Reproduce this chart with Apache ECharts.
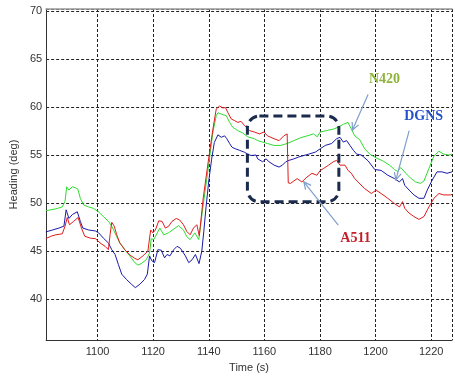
<!DOCTYPE html>
<html><head><meta charset="utf-8">
<script src="https://cdn.jsdelivr.net/npm/echarts@6/dist/echarts.min.js"></script>
<style>html,body{margin:0;padding:0;background:#fff}#c{width:455px;height:378px}</style>
</head><body><div id="c"></div>
<script>
// Tick labels
const xTicks = [1100, 1120, 1140, 1160, 1180, 1200, 1220];
const yTicks = [40, 45, 50, 55, 60, 65, 70];
const seriesNames = ['N420', 'DGNS', 'A511'];

// N420 (green): [time s, heading deg]
const n420 = [
 [1081.4,49.2],[1085.0,49.4],[1087.3,49.6],[1088.3,50.2],[1088.9,51.7],[1089.7,51.35],[1090.9,51.7],[1092.0,51.6],[1092.9,51.45],
 [1093.8,50.5],[1095.0,49.8],[1096.8,49.6],[1098.5,49.45],[1100.3,49.1],[1102.1,48.6],[1103.9,48.1],[1105.1,47.6],[1106.9,46.5],
 [1108.0,45.85],[1109.8,45.15],[1111.6,44.5],[1113.4,43.8],[1114.5,43.55],[1115.7,43.7],[1117.5,44.1],[1118.7,44.8],[1119.3,46.3],
 [1120.2,46.2],[1122.4,47.4],[1123.8,46.7],[1125.5,46.9],[1127.9,47.4],[1129.1,47.65],[1130.9,47.2],[1132.1,46.5],[1133.3,46.2],
 [1135.0,46.9],[1136.4,46.2],[1138.0,49.8],[1139.8,53.6],[1141.5,57.4],[1142.7,59.1],[1143.3,59.4],[1145.1,59.2],[1146.3,59.1],
 [1147.5,58.4],[1148.6,57.9],[1150.4,57.55],[1152.2,57.3],[1154.0,56.9],[1156.4,56.7],[1157.6,56.5],[1159.3,56.35],[1161.1,56.2],
 [1163.5,56.0],[1165.9,56.0],[1168.2,56.2],[1170.6,56.5],[1173.0,56.8],[1175.4,57.0],[1177.7,57.2],[1179.0,56.9],[1180.1,57.4],
 [1182.5,57.55],[1184.8,57.7],[1186.6,57.9],[1188.4,58.2],[1190.1,58.4],[1191.3,57.7],[1192.5,57.0],[1194.3,56.6],[1196.1,55.65],
 [1197.9,55.1],[1200.2,54.7],[1202.6,54.4],[1205.0,53.95],[1206.8,53.5],[1207.9,53.3],[1209.1,53.7],[1210.9,53.1],[1212.6,52.6],
 [1214.4,52.2],[1216.2,52.05],[1217.4,52.3],[1219.2,53.6],[1221.0,54.9],[1222.8,55.4],[1224.5,55.1],[1226.3,55.0],[1227.5,55.1]
];

// DGNS (blue)
const dgns = [
 [1081.4,47.0],[1083.8,47.2],[1086.1,47.4],[1087.9,47.6],[1088.7,49.3],[1089.7,48.4],[1090.9,48.8],[1092.7,49.1],[1093.8,48.1],
 [1094.7,47.4],[1096.8,47.2],[1099.2,47.1],[1100.4,46.9],[1102.1,46.35],[1103.9,45.85],[1105.1,45.15],[1106.3,44.65],[1107.5,43.6],
 [1108.7,42.6],[1110.4,42.05],[1112.2,41.55],[1113.6,41.2],[1115.2,41.55],[1116.9,42.05],[1117.9,42.6],[1118.7,44.5],[1119.5,44.0],
 [1120.5,43.8],[1121.7,45.15],[1122.9,45.1],[1124.1,44.3],[1125.0,44.65],[1126.0,44.5],[1127.4,45.15],[1128.6,45.5],[1129.8,45.3],
 [1131.6,44.5],[1132.8,43.8],[1134.0,44.1],[1135.2,44.65],[1136.5,43.7],[1137.5,45.0],[1138.2,47.0],[1139.0,49.5],[1140.0,52.3],
 [1141.0,54.5],[1142.0,56.3],[1143.3,57.1],[1144.5,56.85],[1145.7,57.0],[1146.5,56.7],[1147.5,56.2],[1148.4,55.8],[1149.6,55.65],
 [1151.0,55.5],[1152.8,55.3],[1154.0,55.1],[1155.2,54.95],[1157.0,55.0],[1157.6,54.6],[1159.4,54.3],[1160.6,54.6],[1161.7,54.3],
 [1163.5,53.95],[1165.3,53.75],[1166.5,53.95],[1167.7,54.3],[1168.9,54.45],[1170.6,54.6],[1172.4,54.8],[1174.2,54.95],[1176.0,55.1],
 [1178.3,55.3],[1180.1,55.65],[1181.9,56.0],[1184.2,56.2],[1186.0,56.7],[1187.2,56.85],[1188.4,56.35],[1189.6,56.5],[1190.8,56.0],
 [1192.0,55.5],[1193.2,55.1],[1194.9,55.0],[1197.3,54.4],[1199.7,53.5],[1202.0,53.4],[1204.4,52.9],[1206.8,52.55],[1208.6,52.2],
 [1209.7,52.55],[1210.5,51.85],[1212.1,51.35],[1213.8,50.85],[1215.6,50.5],[1217.4,50.5],[1218.6,51.35],[1220.4,52.4],[1222.1,53.25],
 [1223.9,53.25],[1225.7,53.1],[1227.5,53.25]
];

// A511 (red)
const a511 = [
 [1081.4,46.3],[1083.2,46.55],[1085.0,46.7],[1087.3,46.8],[1088.3,47.6],[1089.1,48.5],[1089.9,47.75],[1091.4,48.1],[1093.0,48.5],
 [1094.2,47.4],[1095.4,46.55],[1097.4,46.35],[1099.2,46.3],[1100.9,45.85],[1102.7,45.5],[1103.9,45.15],[1104.5,46.7],[1105.1,48.0],
 [1106.0,47.6],[1106.9,46.7],[1108.0,45.85],[1109.8,45.15],[1111.6,44.6],[1113.4,44.25],[1114.5,44.1],[1116.3,44.5],[1118.1,45.0],
 [1119.1,47.2],[1119.9,46.9],[1120.8,47.2],[1122.0,48.15],[1123.2,48.1],[1124.4,47.4],[1125.6,47.6],[1126.8,48.1],[1128.3,48.4],
 [1129.5,48.25],[1130.9,47.75],[1132.1,47.05],[1133.3,46.7],[1134.5,47.4],[1135.7,47.75],[1136.6,46.6],[1138.0,50.5],[1139.8,54.3],
 [1141.5,57.7],[1142.7,59.8],[1143.9,60.1],[1145.1,59.9],[1146.0,59.95],[1146.9,59.4],[1148.1,58.75],[1149.2,58.6],[1150.4,58.4],
 [1151.6,58.5],[1152.8,58.1],[1154.6,57.55],[1156.4,57.4],[1158.2,57.2],[1159.9,57.4],[1161.1,57.0],[1163.5,56.7],[1165.3,56.5],
 [1167.0,57.0],[1168.2,57.2],[1168.6,52.1],[1169.4,52.05],[1170.6,52.3],[1171.8,52.55],[1173.5,52.2],[1175.3,52.7],[1177.1,53.1],
 [1178.9,52.9],[1180.1,53.4],[1181.3,53.6],[1183.1,53.95],[1184.8,54.3],[1186.0,54.45],[1187.2,53.95],[1189.0,53.95],[1190.1,53.4],
 [1191.3,53.1],[1192.5,52.55],[1193.7,52.2],[1196.1,51.5],[1198.5,51.0],[1200.2,51.35],[1202.0,51.0],[1204.4,50.5],[1206.8,49.95],
 [1208.6,49.6],[1209.7,50.15],[1210.5,49.45],[1212.1,48.95],[1213.8,48.6],[1215.6,48.3],[1217.4,48.6],[1219.2,49.6],[1221.0,50.5],
 [1222.8,51.0],[1224.5,50.85],[1226.9,50.85],[1227.5,50.9]
];

// Annotation anchors in data coordinates
const labelPos = { N420: [1203.2, 62.9], DGNS: [1217.3, 59.0], A511: [1192.8, 46.3] };
const arrows = { N420: [[1197.3, 61.3], [1191.7, 57.6]], DGNS: [[1212.1, 57.55], [1207.3, 52.4]], A511: [[1186.6, 47.7], [1174.2, 52.2]] };
const boxCorners = [[1153.9, 59.06], [1186.8, 50.13]];

const colors = { N420: '#2fdc2f', DGNS: '#1a1aa8', A511: '#e01c1c' };
const labelColors = { N420: '#8fb43a', DGNS: '#2450c8', A511: '#c8202a' };

const xMin = 1081.5, xMax = 1227.5;
const chart = echarts.init(document.getElementById('c'), null, { renderer: 'canvas' });
const option = {
  animation: false,
  backgroundColor: '#fff',
  grid: { left: 44, right: 0, top: 9, bottom: 35 },
  xAxis: [{
    type: 'value', min: xMin, max: xMax, splitNumber: 7,
    name: 'Time (s)', nameLocation: 'middle', nameGap: 21,
    nameTextStyle: { fontFamily: 'Liberation Sans', fontSize: 11, color: '#333' },
    axisLine: { show: true, onZero: false, lineStyle: { color: '#333', width: 1 } },
    axisTick: { show: false },
    axisLabel: { fontFamily: 'Liberation Sans', fontSize: 11, color: '#333', margin: 6,
      formatter: v => xTicks.includes(Math.round(v*1000)/1000) ? String(v) : '' },
    splitLine: { show: true, lineStyle: { color: '#222', type: [3, 2], width: 1 } }
  }, {
    type: 'value', position: 'top', min: xMin, max: xMax,
    axisLine: { show: true, onZero: false, lineStyle: { color: '#9a9a9a', width: 1.5 } },
    axisTick: { show: false }, axisLabel: { show: false }, splitLine: { show: false }
  }],
  yAxis: {
    type: 'value', min: 35.74, max: 70.2, splitNumber: 7,
    name: 'Heading (deg)', nameLocation: 'middle', nameGap: 26, nameRotate: 90,
    nameTextStyle: { fontFamily: 'Liberation Sans', fontSize: 11, color: '#333' },
    axisLine: { show: true, onZero: false, lineStyle: { color: '#333', width: 1 } },
    axisTick: { show: false },
    axisLabel: { fontFamily: 'Liberation Sans', fontSize: 11, color: '#333', margin: 4,
      formatter: v => yTicks.includes(Math.round(v*1000)/1000) ? String(v) : '' },
    splitLine: { show: true, lineStyle: { color: '#222', type: [3, 2], width: 1 } }
  },
  series: [
    { name: 'N420', type: 'line', data: n420, showSymbol: false, symbol: 'none', lineStyle: { color: colors.N420, width: 1 }, z: 3 },
    { name: 'DGNS', type: 'line', data: dgns, showSymbol: false, symbol: 'none', lineStyle: { color: colors.DGNS, width: 1 }, z: 3 },
    { name: 'A511', type: 'line', data: a511, showSymbol: false, symbol: 'none', lineStyle: { color: colors.A511, width: 1 }, z: 4 }
  ]
};
chart.setOption(option);

const px = p => chart.convertToPixel({ xAxisIndex: 0, yAxisIndex: 0 }, p);
const graphics = [];
const b0 = px(boxCorners[0]), b1 = px(boxCorners[1]);
graphics.push({ type: 'rect', z: 10, shape: { x: b0[0], y: b0[1], width: b1[0]-b0[0], height: b1[1]-b0[1], r: 12 },
  style: { fill: 'none', stroke: '#1b2b4d', lineWidth: 3, lineDash: [9, 5] } });
seriesNames.forEach(n => {
  const a = px(arrows[n][0]), b = px(arrows[n][1]);
  graphics.push({ type: 'line', z: 11, shape: { x1: a[0], y1: a[1], x2: b[0], y2: b[1] }, style: { stroke: '#7f9fcc', lineWidth: 1.2 } });
  const ang = Math.atan2(b[1]-a[1], b[0]-a[0]);
  const L = 8, s = 0.45;
  const p1 = [b[0] - L*Math.cos(ang - s), b[1] - L*Math.sin(ang - s)];
  const p2 = [b[0] - L*Math.cos(ang + s), b[1] - L*Math.sin(ang + s)];
  graphics.push({ type: 'polyline', z: 11, shape: { points: [p1, b, p2] }, style: { stroke: '#7f9fcc', lineWidth: 1.2, fill: 'none' } });
  const t = px(labelPos[n]);
  graphics.push({ type: 'text', z: 12, x: t[0], y: t[1], style: { text: n, fill: labelColors[n], font: 'bold 14px "Liberation Serif", serif', align: 'center', verticalAlign: 'middle' } });
});
chart.setOption({ graphic: graphics });
</script>
</body></html>
